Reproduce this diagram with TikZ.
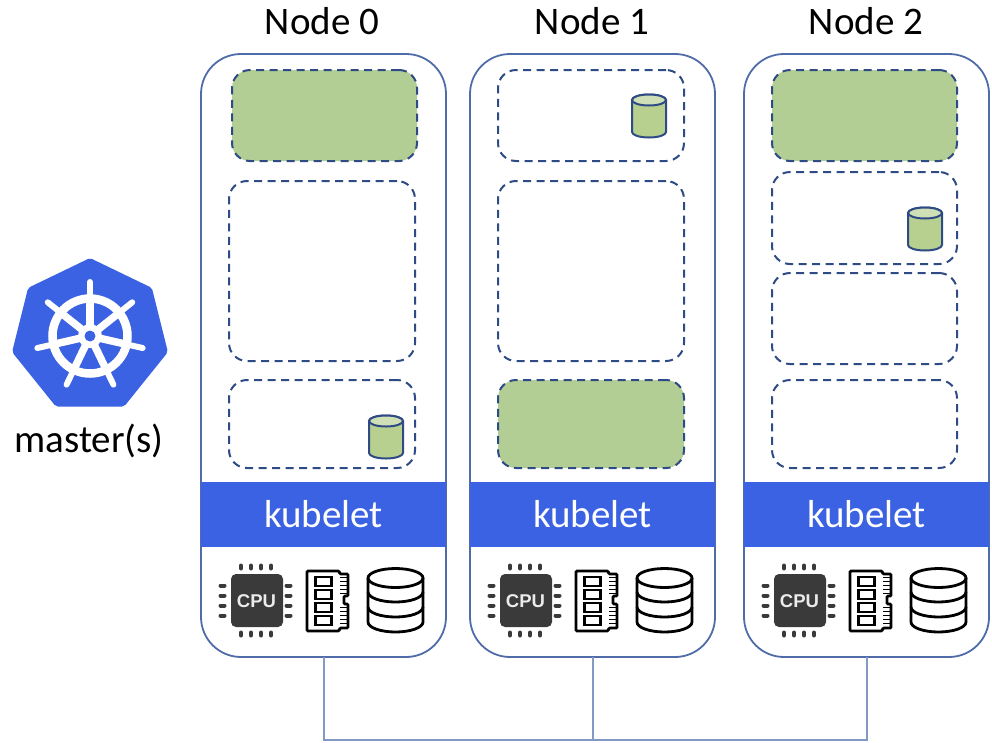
\documentclass[tikz,border=0pt]{standalone}
\usepackage{fontspec}
\setmainfont{Carlito}
\newfontfamily\cpufont{Liberation Sans}
\definecolor{edgeblue}{HTML}{4F6CA8}
\definecolor{dashblue}{HTML}{2F4B85}
\definecolor{bandblue}{HTML}{3A62E2}
\definecolor{podgreen}{HTML}{B2CE94}
\definecolor{cylgreen}{HTML}{B7CF8F}
\definecolor{linkblue}{HTML}{8299C6}
\definecolor{chip}{HTML}{3A3A3A}
\newcommand{\boxnode}[6][]{\node[#2,anchor=north west,minimum width=#5 pt,minimum height=#6 pt,#1] (#3) at (#4) {};}
\newcommand{\cylicon}[2]{% x, y of top left
 \begin{scope}[shift={(#1,#2)}]
 \draw[cylline,fill=cylgreen] (0,6) -- (0,38) arc[x radius=17,y radius=5.5,start angle=180,end angle=0] -- (34,6) arc[x radius=17,y radius=5.5,start angle=0,end angle=-180] -- cycle;
 \draw[cylline,fill=cylgreen!65!white] (17,6) ellipse[x radius=17,y radius=5.5];
 \end{scope}}
\newcommand{\hwicons}[1]{% x offset from node 0
 \begin{scope}[shift={(#1,0)}]
 \fill[chip,rounded corners=5pt] (231,574) rectangle (283,627);
 \node[text=white!92!black,font=\cpufont\bfseries\fontsize{18.5}{20}\selectfont,inner sep=0pt] (cpu#1) at (256.5,601) {CPU};
 \foreach \k in {-15,-5,5,15}{
  \draw[pinline] (256+\k,565.5) -- (256+\k,568.5);
  \draw[pinline] (256+\k,632.5) -- (256+\k,635.5);
  \draw[pinline] (220.5,600.5+\k) -- (224.5,600.5+\k);
  \draw[pinline] (286.5,600.5+\k) -- (290.5,600.5+\k);
 }
 \draw[iconline,rounded corners=1pt] (307,571) -- (339,571) -- (340,574) -- (348,574) -- (348,596) -- (344,596) -- (344,604) -- (348,604) -- (348,628) -- (340,628) -- (339,631) -- (307,631) -- cycle;
 \foreach \y in {577,590,603,616}{
  \draw[line width=2.2pt,black] (315.5,\y) rectangle (331.5,\y+9);
 }
 \foreach \y in {577,581,585,589,593,607,611,615,619,623}{
  \draw[line width=.9pt,black] (340,\y) -- (347,\y);
 }
 \begin{scope}[iconline]
 \draw (368,578) -- (368,622) arc[x radius=27.5,y radius=10,start angle=180,end angle=0] -- (423,578);
 \draw (395.5,578) ellipse[x radius=27.5,y radius=9.5];
 \draw (368,592) arc[x radius=27.5,y radius=10,start angle=180,end angle=0];
 \draw (368,607) arc[x radius=27.5,y radius=10,start angle=180,end angle=0];
 \end{scope}
 \end{scope}}
\tikzset{
 worker/.style={draw=edgeblue,line width=1.8pt,fill=white,rounded corners=40pt,inner sep=0pt,outer sep=0pt},
 band/.style={fill=bandblue,text=white,inner sep=0pt,outer sep=0pt,font=\fontsize{39}{42}\selectfont},
 pod/.style={draw=dashblue,line width=2pt,dash pattern=on 8pt off 5.5pt,rounded corners=18pt,inner sep=0pt,outer sep=0pt},
 greenpod/.style={pod,fill=podgreen},
 title/.style={font=\fontsize{39}{42}\selectfont,text=black,inner sep=0pt},
 cylline/.style={draw=dashblue,line width=2pt},
 iconline/.style={draw=black,line width=2.8pt},
 pinline/.style={draw=chip,line width=4pt,line cap=round},
 link/.style={draw=linkblue,line width=1.1pt},
 wheel/.style={draw=white,line cap=round},
}
\begin{document}
\begin{tikzpicture}[x=1pt,y=-1pt]
\useasboundingbox (0,0) rectangle (992,742);
% links
\coordinate (j0) at (324,740);
\coordinate (j1) at (593,740);
\coordinate (j2) at (867,740);
% workers
\boxnode{worker}{n0}{201,54}{245}{603}
\boxnode{worker}{n1}{470,54}{245}{603}
\boxnode{worker}{n2}{744,54}{245}{603}
\draw[link] (n0.south -| j0) -- (j0) -- (j2) -- (n2.south -| j2);
\draw[link] (n1.south -| j1) -- (j1);
\node[title] (t0) at (322,21) {Node 0};
\node[title] (t1) at (592,21) {Node 1};
\node[title] (t2) at (866,21) {Node 2};
% kubelet bands
\node[band,minimum width=245pt,minimum height=65pt] (k0) at (323.5,514.5) {kubelet};
\node[band,minimum width=245pt,minimum height=65pt] (k1) at (592.5,514.5) {kubelet};
\node[band,minimum width=245pt,minimum height=65pt] (k2) at (866.5,514.5) {kubelet};
% pods node 0
\boxnode{greenpod}{p00}{232,70}{185}{91}
\boxnode{pod}{p01}{229,181}{186}{180}
\boxnode{pod}{p02}{229,380}{186}{88}
% pods node 1
\boxnode{pod}{p10}{498,70}{186}{91}
\boxnode{pod}{p11}{498,181}{186}{180}
\boxnode{greenpod}{p12}{498,380}{186}{88}
% pods node 2
\boxnode{greenpod}{p20}{772,70}{185}{91}
\boxnode{pod}{p21}{772,172}{185}{92}
\boxnode{pod}{p22}{772,273}{185}{91}
\boxnode{pod}{p23}{772,380}{185}{88}
% volumes
\cylicon{369}{415}
\cylicon{632}{94}
\cylicon{908}{207}
% hardware
\hwicons{0}
\hwicons{269}
\hwicons{543}
% master logo
\fill[bandblue,draw=bandblue,line width=9pt,line join=round]
 (90,263) -- (148,291) -- (163,351) -- (122,402) -- (58,402) -- (17,351) -- (32,291) -- cycle;
\draw[white,line width=8.5pt] (90,336) circle (37.5);
\foreach \a in {0,...,6}{
 \draw[wheel,line width=6pt] ({90+54*sin(\a*360/7)},{336-54*cos(\a*360/7)}) -- ({90+8*sin(\a*360/7)},{336-8*cos(\a*360/7)});
 \draw[white,line width=7.5pt] ({90+36*sin(\a*360/7)},{336-36*cos(\a*360/7)}) -- ({90+8*sin(\a*360/7)},{336-8*cos(\a*360/7)});
}
\fill[white] (90,336) circle (12);
\fill[bandblue] (90,336) circle (5.5);
\node[title] (mlabel) at (89,441) {master(s)};
\end{tikzpicture}
\end{document}
